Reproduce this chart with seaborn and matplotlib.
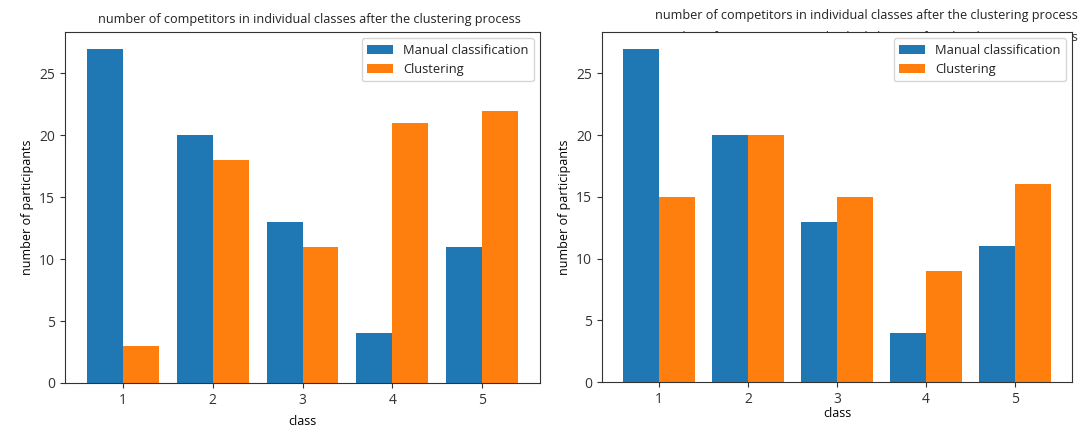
import numpy as np
import pandas as pd
import matplotlib
matplotlib.use("Agg")
import matplotlib.pyplot as plt
import seaborn as sns

# du lieu doc tu hinh
classes = ["1", "2", "3", "4", "5"]
manual = [27, 20, 13, 4, 11]
clustering_left = [3, 18, 11, 21, 22]
clustering_right = [15, 20, 15, 9, 16]
series_names = ["Manual classification", "Clustering"]
title = "number of competitors in individual classes after the clustering process"

plt.rcParams['font.family'] = ['Open Sans', 'DejaVu Sans']
plt.rcParams['font.size'] = 9
plt.rcParams['axes.edgecolor'] = '#333333'
plt.rcParams['text.color'] = '#222222'
plt.rcParams['xtick.color'] = '#333333'
plt.rcParams['ytick.color'] = '#333333'

colors = ["#1f77b4", "#ff7f0e"]


def make_df(clust):
    return pd.DataFrame({
        "class": classes * 2,
        "count": manual + clust,
        "method": [series_names[0]] * len(classes) + [series_names[1]] * len(classes),
    })


fig = plt.figure(figsize=(10.81, 4.26), dpi=100)
ax1 = fig.add_axes([65 / 1081, 43 / 426, 475 / 1081, 351 / 426])
ax2 = fig.add_axes([602 / 1081, 44 / 426, 470 / 1081, 350 / 426])

for ax, clust in [(ax1, clustering_left), (ax2, clustering_right)]:
    sns.barplot(data=make_df(clust), x="class", y="count", hue="method",
                palette=colors, width=0.8, saturation=1, ax=ax)
    ax.set_xlim(-0.64, 4.64)
    ax.set_ylabel("number of participants", fontsize=9)
    ax.set_xlabel("class", fontsize=9)
    ax.tick_params(labelsize=10)
    ax.legend(loc="upper right", fontsize=9.3, title=None)

ax1.xaxis.labelpad = 5
ax2.xaxis.labelpad = 0

# tieu de dat bang fig.text de canh vi tri
fig.text(309 / 1081, 1 - 20 / 426, title, ha="center", va="center", fontsize=9.1)
fig.text(866 / 1081, 1 - 16 / 426, title, ha="center", va="center", fontsize=9.1)
# dong chu bi che mot phan boi truc
fig.text(866 / 1081, 1 - 31 / 426, title, ha="center", va="top", fontsize=9.1,
         color="#333333", zorder=-1)

fig.savefig("out.png", dpi=100)
